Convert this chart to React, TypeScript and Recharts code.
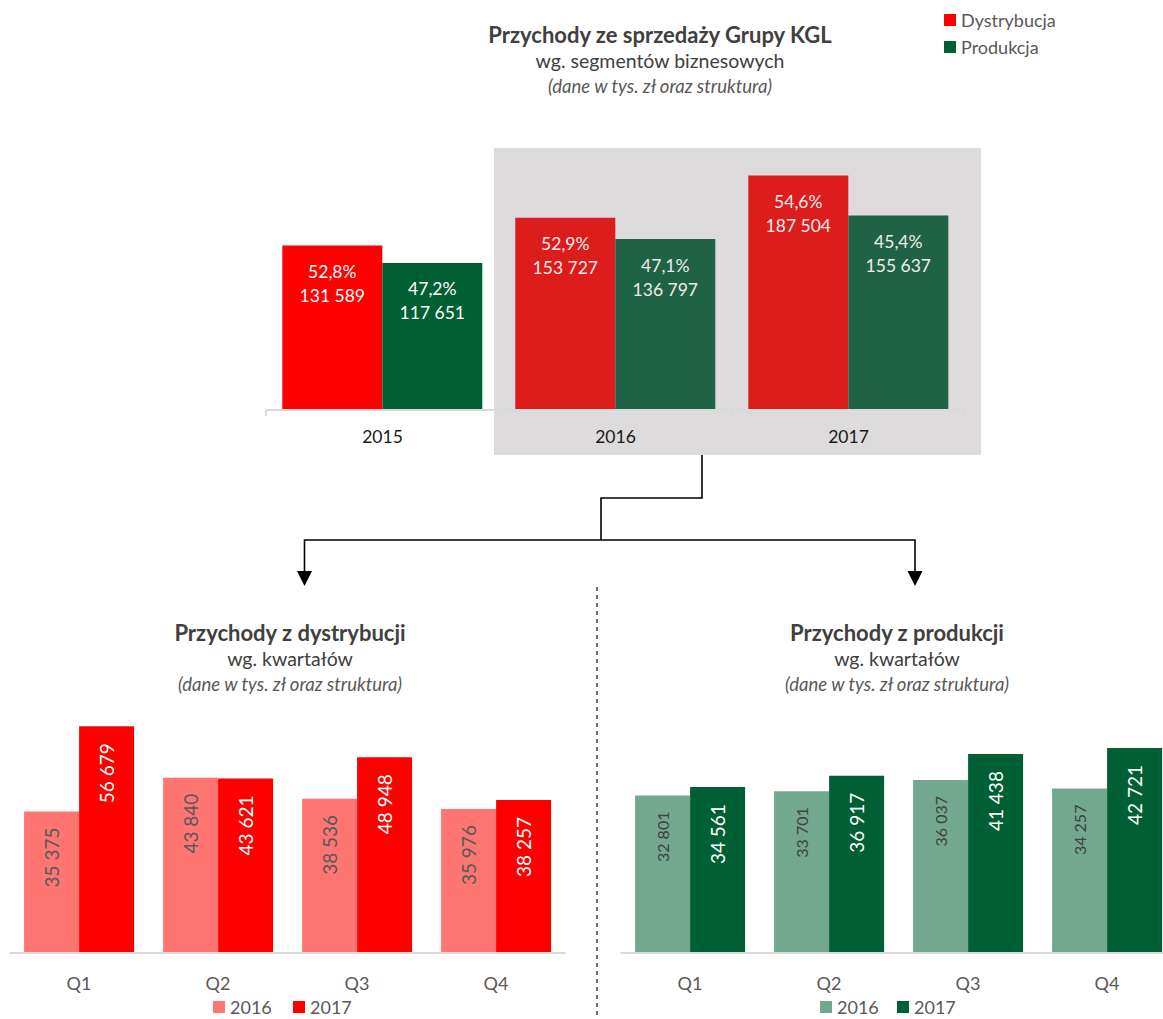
import { BarChart, Bar, XAxis, YAxis, Cell, LabelList } from "recharts";

// top chart: revenue by segment, in thousands PLN
const YEARS = ["2015", "2016", "2017"];
const DYSTRYBUCJA = [131589, 153727, 187504];
const PRODUKCJA = [117651, 136797, 155637];
const DYST_SHARE = [52.8, 52.9, 54.6];
const PROD_SHARE = [47.2, 47.1, 45.4];

// bottom charts: quarters
const QUARTERS = ["Q1", "Q2", "Q3", "Q4"];
const DYST_2016 = [35375, 43840, 38536, 35976];
const DYST_2017 = [56679, 43621, 48948, 38257];
const PROD_2016 = [32801, 33701, 36037, 34257];
const PROD_2017 = [34561, 36917, 41438, 42721];

const FONT = "Lato, 'Open Sans', sans-serif";
const AXIS = "#d9d9d9";

const DYS_COLORS = ["#ff0000", "#dd1c1c", "#dd1c1c"];
const PROD_COLORS = ["#005f33", "#206246", "#206246"];
const TOP_LABEL = ["#ffffff", "#eeeeee", "#eeeeee"];

const fmtNum = (n: number) => String(n).replace(/\B(?=(\d{3})+(?!\d))/g, " ");
const fmtPct = (p: number) => p.toFixed(1).replace(".", ",") + "%";

const topData = YEARS.map((year, i) => ({ year, dys: DYSTRYBUCJA[i], prod: PRODUKCJA[i] }));
const dystData = QUARTERS.map((q, i) => ({ q, a: DYST_2016[i], b: DYST_2017[i] }));
const prodData = QUARTERS.map((q, i) => ({ q, a: PROD_2016[i], b: PROD_2017[i] }));

const TOP = { left: 266, width: 699, bottom: 410 };
const band = TOP.width / YEARS.length;

function TopTick(props: any) {
  const { x, y, payload, index } = props;
  return (
    <g>
      <line x1={x - band / 2} x2={x - band / 2} y1={TOP.bottom} y2={TOP.bottom + 6} stroke={AXIS} strokeWidth={2} />
      {index === YEARS.length - 1 && (
        <line x1={x + band / 2} x2={x + band / 2} y1={TOP.bottom} y2={TOP.bottom + 6} stroke={AXIS} strokeWidth={2} />
      )}
      <text x={x} y={y} dy="0.71em" textAnchor="middle" fill="#1a1a1a" fontSize={17.5} fontFamily={FONT}>
        {payload.value}
      </text>
    </g>
  );
}

const twoLine = (shares: number[]) => (props: any) => {
  const { x, y, width, value, index } = props;
  const cx = x + width / 2;
  return (
    <g fill={TOP_LABEL[index]} fontSize={17.5} fontFamily={FONT} textAnchor="middle">
      <text x={cx} y={y + 26} dominantBaseline="central">{fmtPct(shares[index])}</text>
      <text x={cx} y={y + 50} dominantBaseline="central">{fmtNum(value)}</text>
    </g>
  );
};

const rotLabel = (color: string, size: number, offset: number) => (props: any) => {
  const { x, y, width, value } = props;
  const cx = x + width / 2;
  const ty = y + offset;
  return (
    <text
      x={cx}
      y={ty}
      transform={`rotate(-90 ${cx} ${ty})`}
      textAnchor="end"
      dominantBaseline="central"
      fill={color}
      fontSize={size}
      fontFamily={FONT}
    >
      {fmtNum(value)}
    </text>
  );
};

function Titles({ cx, top, title, sub }: { cx: number; top: number; title: string; sub: string }) {
  const line = (t: number, text: string, style: any) => (
    <div style={{ position: "absolute", left: cx - 300, width: 600, top: t, textAlign: "center", lineHeight: "24px", ...style }}>
      {text}
    </div>
  );
  return (
    <>
      {line(top, title, { fontWeight: 700, fontSize: 22, color: "#404040" })}
      {line(top + 26, sub, { fontSize: 19.5, color: "#404040" })}
      {line(top + 51, "(dane w tys. zł oraz struktura)", { fontSize: 18.5, fontStyle: "italic", color: "#595959" })}
    </>
  );
}

function Swatch({ color, label, left, top }: { color: string; label: string; left: number; top: number }) {
  return (
    <div
      style={{
        position: "absolute",
        left,
        top,
        display: "flex",
        alignItems: "center",
        fontSize: 18,
        lineHeight: "16px",
        color: "#595959",
      }}
    >
      <span style={{ width: 12, height: 12, background: color, display: "inline-block", marginRight: 5 }} />
      {label}
    </div>
  );
}

function QuarterChart({ data, domainMax, left, marginLeft, c2016, c2017, l2016, size2016 }: any) {
  return (
    <div style={{ position: "absolute", left, top: 690 }}>
      <BarChart
        width={600}
        height={330}
        data={data}
        margin={{ top: 23, right: 600 - marginLeft - 556, bottom: 17, left: marginLeft }}
        barCategoryGap="10.5%"
        barGap={0}
      >
        <XAxis
          dataKey="q"
          height={50}
          interval={0}
          tickLine={false}
          tickMargin={18}
          axisLine={{ stroke: AXIS, strokeWidth: 2 }}
          tick={{ fill: "#595959", fontSize: 18, fontFamily: FONT }}
        />
        <YAxis hide domain={[0, domainMax]} />
        <Bar dataKey="a" fill={c2016} isAnimationActive={false}>
          <LabelList dataKey="a" content={rotLabel(l2016, size2016, 16)} />
        </Bar>
        <Bar dataKey="b" fill={c2017} isAnimationActive={false}>
          <LabelList dataKey="b" content={rotLabel("#ffffff", 19, 17)} />
        </Bar>
      </BarChart>
    </div>
  );
}

export default function App() {
  return (
    <div
      style={{
        position: "absolute",
        left: 0,
        top: 0,
        width: 1163,
        height: 1019,
        overflow: "hidden",
        background: "#ffffff",
        fontFamily: FONT,
      }}
    >
      <svg width={1163} height={1019} style={{ position: "absolute", left: 0, top: 0 }}>
        <rect x={494} y={148} width={487} height={307} fill="#dddbdc" />
        <polyline points="702,455 702,498 601,498 601,540" fill="none" stroke="#000" strokeWidth={1.6} />
        <polyline points="304.5,572 304.5,540 915,540 915,572" fill="none" stroke="#000" strokeWidth={1.6} />
        <polygon points="297,571 312,571 304.5,586" fill="#000" />
        <polygon points="907.5,571 922.5,571 915,586" fill="#000" />
        <line x1={597} x2={597} y1={587} y2={1019} stroke="#404040" strokeWidth={1.5} strokeDasharray="4 4" />
      </svg>

      <Titles cx={660} top={23} title="Przychody ze sprzedaży Grupy KGL" sub="wg. segmentów biznesowych" />
      <Swatch color="#ff0000" label="Dystrybucja" left={944} top={12} />
      <Swatch color="#005f33" label="Produkcja" left={944} top={39} />

      <div style={{ position: "absolute", left: 0, top: 0 }}>
        <BarChart
          width={1163}
          height={470}
          data={topData}
          margin={{ top: 160, right: 1163 - TOP.left - TOP.width, bottom: 30, left: TOP.left }}
          barCategoryGap="7%"
          barGap={0}
        >
          <XAxis
            dataKey="year"
            height={30}
            interval={0}
            tickLine={false}
            tickMargin={15}
            axisLine={{ stroke: AXIS, strokeWidth: 2 }}
            tick={<TopTick />}
          />
          <YAxis hide domain={[0, 200000]} />
          <Bar dataKey="dys" isAnimationActive={false}>
            {topData.map((_, i) => (
              <Cell key={i} fill={DYS_COLORS[i]} />
            ))}
            <LabelList dataKey="dys" content={twoLine(DYST_SHARE)} />
          </Bar>
          <Bar dataKey="prod" isAnimationActive={false}>
            {topData.map((_, i) => (
              <Cell key={i} fill={PROD_COLORS[i]} />
            ))}
            <LabelList dataKey="prod" content={twoLine(PROD_SHARE)} />
          </Bar>
        </BarChart>
      </div>

      <Titles cx={290} top={621} title="Przychody z dystrybucji" sub="wg. kwartałów" />
      <QuarterChart
        data={dystData}
        domainMax={60000}
        left={0}
        marginLeft={9.5}
        c2016="#ff7571"
        c2017="#ff0000"
        l2016="#595959"
        size2016={19}
      />
      <Swatch color="#ff7571" label="2016" left={213} top={999} />
      <Swatch color="#ff0000" label="2017" left={293} top={999} />

      <Titles cx={897} top={621} title="Przychody z produkcji" sub="wg. kwartałów" />
      <QuarterChart
        data={prodData}
        domainMax={50000}
        left={600}
        marginLeft={20.5}
        c2016="#72a88f"
        c2017="#005f35"
        l2016="#404040"
        size2016={16}
      />
      <Swatch color="#72a88f" label="2016" left={820} top={999} />
      <Swatch color="#005f35" label="2017" left={897} top={999} />
    </div>
  );
}
